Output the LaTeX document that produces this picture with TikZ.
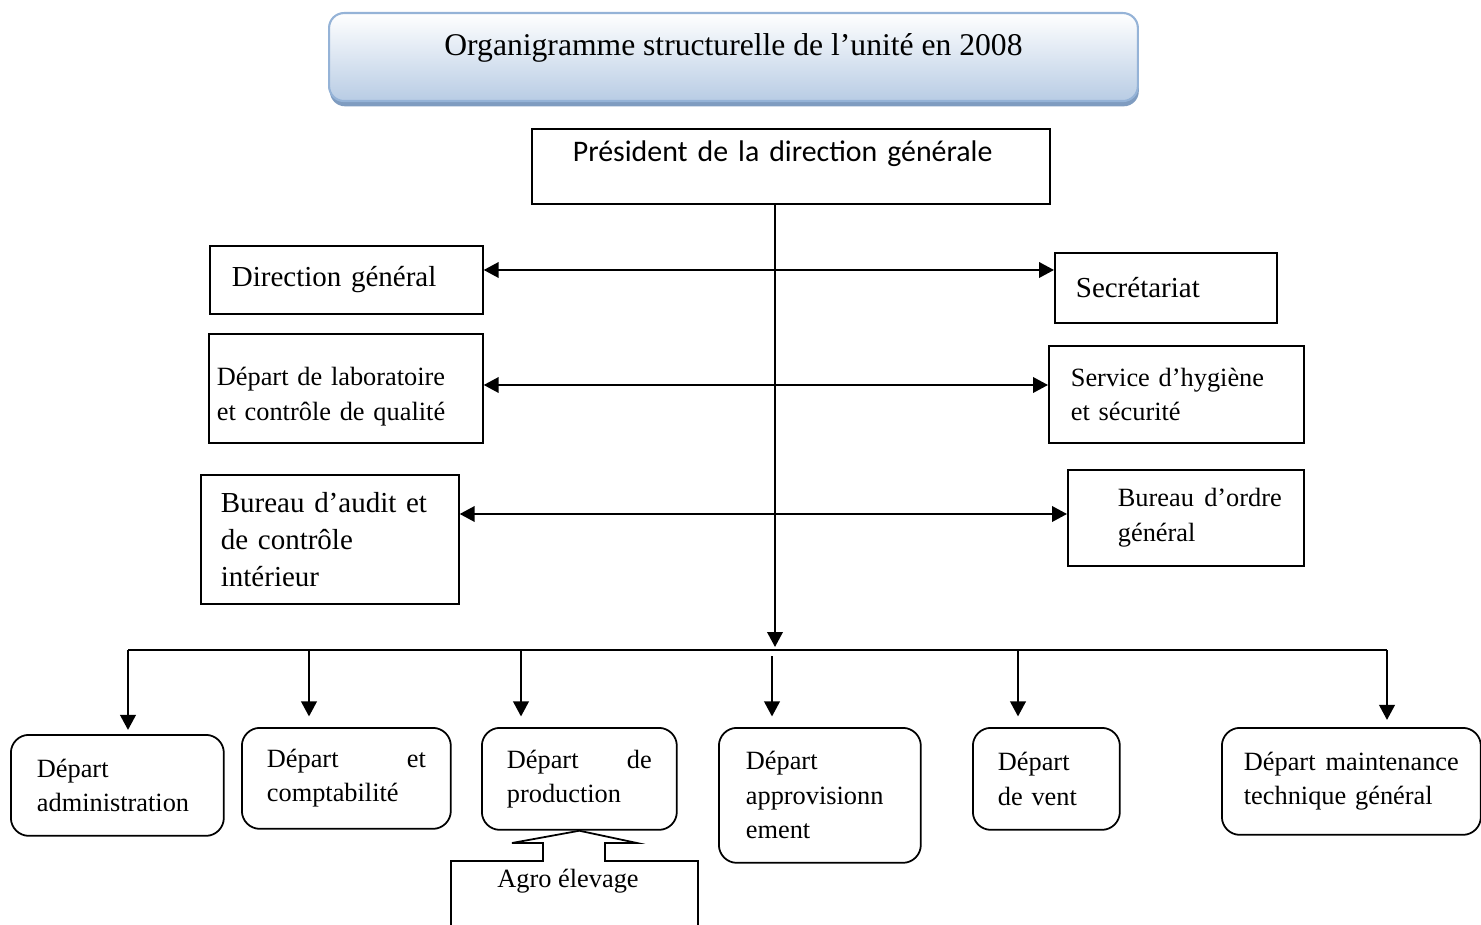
\documentclass[tikz,border=0pt]{standalone}
\usepackage{fontspec}
\setmainfont{Liberation Serif}
\newfontfamily\calibri{Carlito}
\usetikzlibrary{arrows.meta,shadows}
\definecolor{titleblue}{HTML}{B8CCE4}
\definecolor{titleline}{HTML}{95B3D7}
\definecolor{titleshadow}{HTML}{7F9CC0}
\newcommand\spreadfill{\hskip 0pt plus 1filll\relax}

\tikzset{
  unitbox/.style={draw,line width=1pt,anchor=north west,align=left,inner ysep=0pt},
  bigtext/.style={font=\fontsize{16.5}{21}\selectfont},
  smalltext/.style={font=\fontsize{15}{19.6}\selectfont},
  deptbox/.style={unitbox,smalltext,rounded corners=0.36cm},
}

\begin{document}
\begin{tikzpicture}[x=0.02cm,y=-0.02cm,>={Triangle[length=3mm,width=3.1mm]},line width=1.25pt]
\useasboundingbox (0,0) rectangle (1481,925);

% title
\node[draw=titleline,line width=1.2pt,rounded corners=0.3cm,top color=white,bottom color=titleblue,
  drop shadow={shadow xshift=0.5pt,shadow yshift=-3pt,fill=titleshadow,opacity=1},
  minimum width=16.18cm,minimum height=1.76cm,anchor=north west,text depth=14pt,
  font=\fontsize{18}{22}\selectfont] (title) at (328,12) {Organigramme structurelle de l’unité en 2008};

\node[unitbox,font={\calibri\fontsize{17}{20}\selectfont},inner xsep=0.82cm,text width=8.72cm,
  minimum height=1.5cm,text depth=17pt] (pres) at (531,128) {Président de la direction générale};

% left and right
\node[unitbox,bigtext,inner xsep=0.44cm,text width=4.58cm,minimum height=1.36cm] (dirg) at (209,245) {Direction général};
\node[unitbox,smalltext,inner xsep=0.16cm,text width=5.16cm,minimum height=2.18cm,text depth=13.5pt] (labo) at (208,333) {Départ de laboratoire\\et contrôle de qualité};
\node[unitbox,bigtext,inner xsep=0.4cm,text width=4.36cm,minimum height=2.58cm] (audit) at (200,474) {Bureau d’audit et\\de contrôle\\intérieur};
\node[unitbox,bigtext,inner xsep=0.42cm,text width=3.6cm,minimum height=1.4cm] (secr) at (1054,252) {Secrétariat};
\node[unitbox,smalltext,inner xsep=0.44cm,text width=4.22cm,minimum height=1.94cm] (hyg) at (1048,345) {Service d’hygiène\\et sécurité};
\node[unitbox,smalltext,inner xsep=0.44cm,text width=3.84cm,minimum height=1.92cm] (ordre) at (1067,469) {\hspace*{0.56cm}Bureau\spreadfill d’ordre\\\hspace*{0.56cm}général};

% departments
\node[deptbox,inner xsep=0.52cm,text width=3.22cm,minimum height=2.02cm] (adm) at (10,734) {Départ\\administration};
\node[deptbox,inner xsep=0.5cm,text width=3.18cm,minimum height=2.02cm] (compta) at (241,727) {Départ\spreadfill et\\comptabilité};
\node[deptbox,inner xsep=0.5cm,text width=2.9cm,minimum height=2.04cm] (prod) at (481,727) {Départ\spreadfill de\\production};
\node[deptbox,inner xsep=0.54cm,text width=2.96cm,minimum height=2.7cm] (appro) at (718,727) {Départ\\approvisionn\\ement};
\node[deptbox,inner xsep=0.5cm,text width=1.94cm,minimum height=2.04cm] (vent) at (972,727) {Départ\\de vent};
\node[deptbox,inner xsep=0.44cm,text width=4.3cm,minimum height=2.14cm] (maint) at (1221,727) {Départ\spreadfill maintenance\\technique général};

\node[smalltext] (agro) at (568,881) {Agro élevage};
\draw[line width=1pt] (451,925) -- (451,861) -- (543,861) -- (543,843) -- (512,843) -- (prod.south)
  -- (637,843) -- (605,843) -- (605,861) -- (698,861) -- (698,925);

% connectors
\coordinate (hub) at (775,647);
\coordinate (j1) at (775,270);
\coordinate (j2) at (775,385);
\coordinate (j3) at (775,514);
\coordinate (busL) at (128,650);
\coordinate (busR) at (1387,650);
\draw[->] (pres.south -| hub) -- (hub);
\draw[<->] (dirg.east |- j1) -- (secr.west |- j1);
\draw[<->] (labo.east |- j2) -- (hyg.west |- j2);
\draw[<->] (audit.east |- j3) -- (ordre.west |- j3);
\draw (busL) -- (busR);
\draw[->,shorten >=2.3pt] (busL) -- (busL |- adm.north);
\draw[->,shorten >=4pt] (busR) -- (busR |- maint.north);
\foreach \x/\y/\n in {309/650/compta,521/650/prod,772/656/appro,1018/650/vent}{
  \coordinate (t\n) at (\x,\y);
  \draw[->,shorten >=6pt] (t\n) -- (t\n |- \n.north);
}
\end{tikzpicture}
\end{document}
